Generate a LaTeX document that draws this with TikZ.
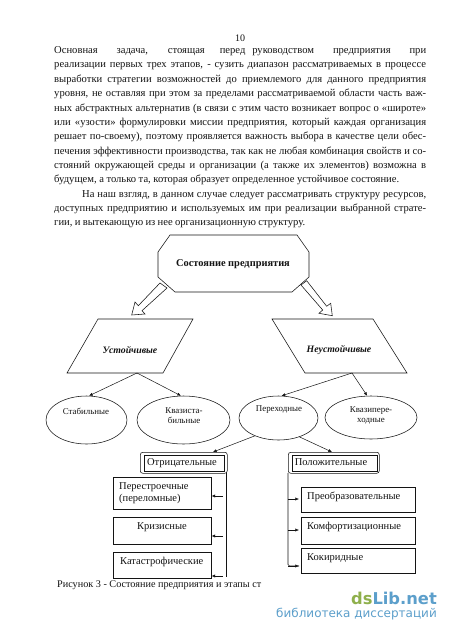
\documentclass[tikz,border=0pt]{standalone}
\usepackage{fontspec}
\setmainfont{Liberation Serif}
\newfontfamily\wmfont{DejaVu Sans}
\usetikzlibrary{shapes.geometric,arrows.meta}
\definecolor{ink}{gray}{0.08}
\definecolor{wmgreen}{HTML}{8FB04C}
\definecolor{wmblue}{HTML}{5C9FCB}
\newcommand{\bodyline}[1]{\makebox[372pt][s]{#1}}
\tikzset{
  page/.style={anchor=west,inner sep=0pt,font=\fontsize{10.6}{12}\selectfont,text=ink,text height=7.5pt,text depth=2.5pt},
  shapeline/.style={draw=ink,line width=0.55pt},
  hollow/.style={draw=ink,line width=0.55pt,fill=white,line join=miter},
  ell/.style={shape=ellipse,draw=ink,line width=0.55pt,inner sep=0pt},
  ltxt/.style={inner sep=0pt,font=\fontsize{8.9}{10}\selectfont,text=ink,align=center},
  btxt/.style={inner sep=0pt,font=\fontsize{10.5}{12}\selectfont,text=ink,text height=7pt,text depth=2pt},
  itxt/.style={inner sep=0pt,font=\bfseries\itshape\fontsize{9.8}{11}\selectfont,text=ink},
  rbox/.style={draw=ink,line width=0.55pt,anchor=north west,inner sep=0pt},
  thin/.style={draw=ink,line width=0.5pt,-{Latex[length=3.6pt,width=3.2pt]}}
}
\begin{document}
\begin{tikzpicture}[x=1pt,y=-1pt]
\useasboundingbox (0,0) rectangle (450,635);
\fill[white] (0,0) rectangle (450,635);
% page text
\node[inner sep=0pt,font=\fontsize{10}{10}\selectfont,text=ink] (pn) at (240,38.5) {10};
\node[page] (l1) at (54,50.5) {\bodyline{Основная\hspace{12pt} задача,\hspace{12pt} стоящая\hspace{8pt} перед руководством\hspace{12pt} предприятия\hspace{12pt} при}};
\node[page] (l2) at (54,65) {\bodyline{реализации первых трех этапов, - сузить диапазон рассматриваемых в процессе}};
\node[page] (l3) at (54,79.5) {\bodyline{выработки стратегии возможностей до приемлемого для данного предприятия}};
\node[page] (l4) at (54,94) {\bodyline{уровня, не оставляя при этом за пределами рассматриваемой области часть важ-}};
\node[page] (l5) at (54,108.5) {\bodyline{ных абстрактных альтернатив (в связи с этим часто возникает вопрос о «широте»}};
\node[page] (l6) at (54,123) {\bodyline{или «узости» формулировки миссии предприятия, который каждая организация}};
\node[page] (l7) at (54,137) {\bodyline{решает по-своему), поэтому проявляется важность выбора в качестве цели обес-}};
\node[page] (l8) at (54,151.5) {\bodyline{печения эффективности производства, так как не любая комбинация свойств и со-}};
\node[page] (l9) at (54,166) {\bodyline{стояний окружающей среды и организации (а также их элементов) возможна в}};
\node[page] (l10) at (54,180) {\makebox[345pt][s]{будущем, а только та, которая образует определенное устойчивое состояние.}};
\node[page] (l11) at (82,195) {\makebox[344pt][s]{На наш взгляд, в данном случае следует рассматривать структуру ресурсов,}};
\node[page] (l12) at (54,209) {\bodyline{доступных предприятию и используемых им при реализации выбранной страте-}};
\node[page] (l13) at (54,223) {\makebox[251pt][s]{гии, и вытекающую из нее организационную структуру.}};
% octagon
\coordinate (oA) at (170,235); \coordinate (oB) at (297,235); \coordinate (oC) at (309,252);
\coordinate (oD) at (309,277); \coordinate (oE) at (292,292); \coordinate (oF) at (175,292);
\coordinate (oG) at (158,277); \coordinate (oH) at (158,252);
\draw[shapeline] (oA)--(oB)--(oC)--(oD)--(oE)--(oF)--(oG)--(oH)--cycle;
\node[inner sep=0pt,font=\bfseries\fontsize{10.4}{11}\selectfont,text=ink] (state) at (233,264) {Состояние предприятия};
% parallelograms
\coordinate (pa) at (98,319); \coordinate (pb) at (193,319); \coordinate (pc) at (163,373); \coordinate (pd) at (67,373);
\draw[shapeline] (pa)--(pb)--(pc)--(pd)--cycle;
\node[itxt] (stable) at (130,350) {Устойчивые};
\coordinate (qa) at (272,319); \coordinate (qb) at (373,319); \coordinate (qc) at (407,373); \coordinate (qd) at (305,373);
\draw[shapeline] (qa)--(qb)--(qc)--(qd)--cycle;
\node[itxt] (unstable) at (339,350) {Неустойчивые};
\coordinate (pout) at (137,373); \coordinate (qout) at (352,373);
% block arrows
\draw[hollow] (160,283)--(167,288)--(142,310.7)--(145,314)--(131.7,315)--(135,302)--(138.3,305.7)--cycle;
\draw[hollow] (301,285)--(306.7,280.7)--(326.7,306.3)--(330.7,303.3)--(332.3,315.7)--(319,313.3)--(322.7,310)--cycle;
% ellipses
\node[ell,minimum width=81pt,minimum height=48pt] (e1) at (86.5,420) {};
\node[ell,minimum width=93pt,minimum height=48pt] (e2) at (183.5,420) {};
\node[ell,minimum width=79pt,minimum height=44pt] (e3) at (278.5,418) {};
\node[ell,minimum width=92pt,minimum height=43pt] (e4) at (371,417.5) {};
\node[ltxt] (e1t) at (86,411) {Стабильные};
\node[ltxt] (e2t) at (184,416) {Квазиста-\\бильные};
\node[ltxt] (e3t) at (279,410) {Переходные};
\node[ltxt] (e4t) at (371,415) {Квазипере-\\ходные};
\draw[thin] (pout)--(e1.84);
\draw[thin] (pout)--(e2.96);
\draw[thin] (qout)--(e3.82);
\draw[thin] (qout)--(e4.100);
% framed headings
\node[rbox,rounded corners=2.5pt,minimum width=87pt,minimum height=21pt] (neg) at (140,452) {};
\node[rbox,minimum width=80pt,minimum height=16pt] (negi) at (144,455) {};
\node[btxt] (negt) at (182,463) {Отрицательные};
\node[rbox,rounded corners=2.5pt,minimum width=91pt,minimum height=21pt] (pos) at (288,452) {};
\node[rbox,minimum width=85pt,minimum height=16pt] (posi) at (292,455) {};
\node[btxt] (post) at (331,463) {Положительные};
\coordinate (negin) at (213,452); \coordinate (posin) at (332,452);
\draw[thin] (e3.217)--(negin);
\draw[thin] (e3.-42)--(posin);
% left boxes
\node[rbox,minimum width=98pt,minimum height=32pt] (b1) at (113,477) {};
\node[rbox,minimum width=98pt,minimum height=27pt] (b2) at (113,517) {};
\node[rbox,minimum width=98pt,minimum height=26pt] (b3) at (113,552) {};
\node[btxt,anchor=west] (b1a) at (119,487) {Перестроечные};
\node[btxt,anchor=west] (b1b) at (119,499) {(переломные)};
\node[btxt] (b2t) at (162,527) {Кризисные};
\node[btxt,anchor=west] (b3t) at (120,562) {Катастрофические};
% right boxes
\node[rbox,minimum width=114pt,minimum height=25pt] (c1) at (301,487) {};
\node[rbox,minimum width=114pt,minimum height=27pt] (c2) at (301,517) {};
\node[rbox,minimum width=114pt,minimum height=25pt] (c3) at (301,548) {};
\node[btxt,anchor=west] (c1t) at (307,497) {Преобразовательные};
\node[btxt,anchor=west] (c2t) at (307,527) {Комфортизационные};
\node[btxt,anchor=west] (c3t) at (307,558) {Кокиридные};
% left bus
\coordinate (lbus) at (226,473); \coordinate (lend) at (226,577);
\draw[shapeline] (lbus)--(lend);
\coordinate (la1) at (223,496); \coordinate (la2) at (223,536); \coordinate (la3) at (223,576);
\draw[thin] (la1)--(b1.east |- la1);
\draw[thin] (la2)--(b2.east |- la2);
\draw[thin] (la3)--(b3.east |- la3);
% right bus
\coordinate (rbus) at (288,473);
\coordinate (ra1) at (288,499); \coordinate (ra2) at (288,530); \coordinate (ra3) at (288,566);
\draw[shapeline,rounded corners=1.5pt] (rbus)--(288,566)--(299,566);
\draw[thin] (ra1)--(299,499);
\draw[thin] (ra2)--(299,530);
\draw[thin] (ra3)--(299,566);
% caption
\node[anchor=west,inner sep=0pt,font=\fontsize{10.2}{11}\selectfont,text=ink,fill=white,text height=7pt,text depth=2pt] (cap) at (57,584.5) {Рисунок 3 - Состояние предприятия и этапы ст};
% watermark
\node[anchor=east,inner sep=0pt,font=\wmfont\bfseries\fontsize{16.3}{18}\selectfont] (wm1) at (437,598) {\textcolor{wmgreen}{ds}\textcolor{wmblue}{Lib.net}};
\node[anchor=east,inner sep=0pt,font=\wmfont\fontsize{12}{13}\selectfont,text=wmblue] (wm2) at (437,614) {библиотека диссертаций};
\end{tikzpicture}
\end{document}
